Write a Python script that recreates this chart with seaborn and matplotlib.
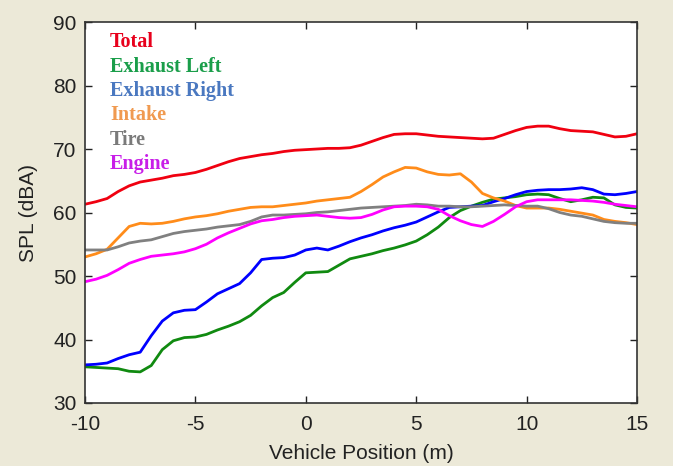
import numpy as np
import pandas as pd
import matplotlib
matplotlib.use("Agg")
import matplotlib.pyplot as plt
import seaborn as sns

position = np.arange(-10, 15.01, 0.5)

total = [61.3, 61.7, 62.2, 63.3, 64.2, 64.8, 65.1, 65.4, 65.8, 66.0, 66.3, 66.8, 67.4, 68.0, 68.5, 68.8,
         69.1, 69.3, 69.6, 69.8, 69.9, 70.0, 70.1, 70.1, 70.2, 70.6, 71.2, 71.8, 72.3, 72.4, 72.4, 72.2,
         72.0, 71.9, 71.8, 71.7, 71.6, 71.7, 72.3, 72.9, 73.4, 73.6, 73.6, 73.2, 72.9, 72.8, 72.7, 72.3,
         71.9, 72.0, 72.4]
exhaust_left = [35.7, 35.6, 35.5, 35.4, 35.0, 34.9, 35.9, 38.4, 39.8, 40.3, 40.4, 40.8, 41.5, 42.1, 42.8, 43.8,
                45.3, 46.6, 47.4, 49.0, 50.5, 50.6, 50.7, 51.7, 52.7, 53.1, 53.5, 54.0, 54.4, 54.9, 55.5, 56.5,
                57.7, 59.2, 60.3, 61.0, 61.6, 62.1, 62.3, 62.5, 62.8, 62.9, 62.8, 62.2, 61.7, 62.0, 62.4, 62.3,
                61.2, 60.8, 60.7]
exhaust_right = [36.0, 36.1, 36.3, 37.0, 37.6, 38.0, 40.6, 42.9, 44.2, 44.6, 44.7, 45.9, 47.2, 48.0, 48.8, 50.5,
                 52.6, 52.8, 52.9, 53.3, 54.1, 54.4, 54.1, 54.7, 55.4, 56.0, 56.5, 57.1, 57.6, 58.0, 58.5, 59.3,
                 60.1, 60.8, 60.9, 61.0, 61.1, 61.7, 62.2, 62.8, 63.3, 63.5, 63.6, 63.6, 63.7, 63.9, 63.6, 62.9,
                 62.8, 63.0, 63.3]
intake = [53.0, 53.5, 54.2, 56.0, 57.8, 58.3, 58.2, 58.3, 58.6, 59.0, 59.3, 59.5, 59.8, 60.2, 60.5, 60.8,
          60.9, 60.9, 61.1, 61.3, 61.5, 61.8, 62.0, 62.2, 62.4, 63.3, 64.4, 65.6, 66.4, 67.1, 67.0, 66.4,
          66.0, 65.9, 66.1, 64.8, 63.0, 62.3, 61.8, 61.1, 60.7, 60.7, 60.7, 60.5, 60.2, 59.9, 59.6, 58.9,
          58.6, 58.4, 58.1]
tire = [54.1, 54.1, 54.1, 54.6, 55.2, 55.5, 55.7, 56.2, 56.7, 57.0, 57.2, 57.4, 57.7, 57.9, 58.1, 58.6,
        59.3, 59.6, 59.6, 59.7, 59.8, 60.0, 60.1, 60.3, 60.5, 60.7, 60.8, 60.9, 61.0, 61.1, 61.3, 61.2,
        61.0, 61.0, 60.9, 60.9, 61.0, 61.1, 61.2, 61.1, 61.0, 61.0, 60.6, 60.0, 59.6, 59.4, 59.0, 58.6,
        58.4, 58.3, 58.3]
engine = [49.1, 49.5, 50.1, 51.0, 52.0, 52.6, 53.1, 53.3, 53.5, 53.8, 54.3, 55.0, 56.0, 56.8, 57.5, 58.2,
          58.7, 58.9, 59.2, 59.4, 59.5, 59.6, 59.4, 59.2, 59.1, 59.2, 59.7, 60.4, 60.9, 61.0, 61.0, 60.9,
          60.5, 59.5, 58.7, 58.1, 57.8, 58.6, 59.7, 60.9, 61.7, 62.0, 62.0, 62.0, 62.0, 61.9, 61.8, 61.6,
          61.3, 61.1, 60.9]

series_names = ["Total", "Exhaust Left", "Exhaust Right", "Intake", "Tire", "Engine"]
series_values = [total, exhaust_left, exhaust_right, intake, tire, engine]
line_colors = ["#f00010", "#108a10", "#0000ff", "#ff8c1a", "#808080", "#ff00ff"]
label_colors = ["#e8001c", "#1a9e4a", "#4a78c0", "#f09a50", "#7a7a7a", "#c81ee8"]

rows = []
for name, vals in zip(series_names, series_values):
    for x, v in zip(position, vals):
        rows.append({"Vehicle Position (m)": x, "SPL (dBA)": v, "Source": name})
df = pd.DataFrame(rows)

sns.set_style("ticks")
plt.rcParams["font.family"] = ["Liberation Sans", "DejaVu Sans"]
plt.rcParams["axes.unicode_minus"] = False

bg = "#ECE9D8"
fig = plt.figure(figsize=(6.73, 4.66), dpi=100, facecolor=bg)
ax = fig.add_axes([85 / 673, 1 - 403 / 466, 552 / 673, 381 / 466])
ax.set_facecolor("white")

sns.lineplot(data=df, x="Vehicle Position (m)", y="SPL (dBA)", hue="Source",
             hue_order=series_names, palette=dict(zip(series_names, line_colors)),
             linewidth=2.0, legend=False, ax=ax)

ax.set_xlim(-10, 15)
ax.set_ylim(30, 90)
ax.set_xticks([-10, -5, 0, 5, 10, 15])
ax.set_yticks([30, 40, 50, 60, 70, 80, 90])
ax.tick_params(direction="in", length=5, width=1, colors="#222222", labelsize=15,
               top=True, right=True, pad=6)
ax.tick_params(axis="x", pad=9)
for s in ax.spines.values():
    s.set_visible(True)
    s.set_color("#333333")
    s.set_linewidth(1.2)
ax.set_xlabel("Vehicle Position (m)", fontsize=15, color="#222222", labelpad=7)
ax.set_ylabel("SPL (dBA)", fontsize=15, color="#222222", labelpad=11)

for i, (name, c) in enumerate(zip(series_names, label_colors)):
    ax.text(0.045, 0.9475 - i * 0.0643, name, transform=ax.transAxes,
            fontsize=14.5, fontweight="bold", color=c, va="center", ha="left",
            family=["Liberation Serif", "DejaVu Serif"])

fig.savefig("out.png", dpi=100, facecolor=bg)
